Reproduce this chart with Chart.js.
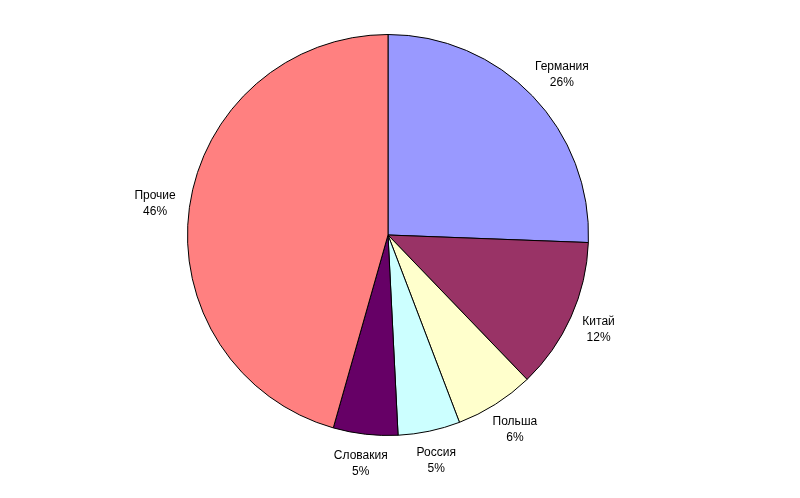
<!DOCTYPE html>
<html>
<head>
<meta charset="utf-8">
<script src="https://cdn.jsdelivr.net/npm/chart.js@4"></script>
<style>
  html, body { margin: 0; padding: 0; background: #fff; }
  #wrap { width: 800px; height: 498px; }
</style>
</head>
<body>
<div id="wrap"><canvas id="myChart" width="800" height="498"></canvas></div>
<script>
var countries = ["Германия", "Китай", "Польша", "Россия", "Словакия", "Прочие"];
var shares = [25.6, 12.2, 6.4, 5.0, 5.2, 45.6];
var colors = ["#9999FF", "#993366", "#FFFFCC", "#CCFFFF", "#660066", "#FF8080"];

// labels outside the pie, name on top, percent below
// the label box is pushed outward so its near corner sits just off the rim
const outsideLabels = {
	id: "outsideLabels",
	afterDatasetsDraw(chart) {
		const ctx = chart.ctx;
		const meta = chart.getDatasetMeta(0);
		const total = shares.reduce(function (a, b) { return a + b; }, 0);
		ctx.save();
		ctx.font = "12px 'Liberation Sans', Arial, sans-serif";
		ctx.fillStyle = "#000";
		ctx.textAlign = "center";
		ctx.textBaseline = "middle";
		meta.data.forEach(function (arc, i) {
			const p = arc.getProps(["x", "y", "startAngle", "endAngle", "outerRadius"], true);
			const mid = (p.startAngle + p.endAngle) / 2;
			const pct = Math.round(shares[i] / total * 100) + "%";
			const w = Math.max(ctx.measureText(countries[i]).width, ctx.measureText(pct).width);
			const h = 32;
			const r = p.outerRadius + 14;
			const cx = p.x + Math.cos(mid) * r + Math.cos(mid) * w / 2;
			const cy = p.y + Math.sin(mid) * r + Math.sin(mid) * h / 2;
			ctx.fillText(countries[i], cx, cy - 8);
			ctx.fillText(pct, cx, cy + 8);
		});
		ctx.restore();
	},
};

const ctx = document.getElementById("myChart").getContext("2d");
const myChart = new Chart(ctx, {
	type: "pie",
	data: {
		labels: countries,
		datasets: [
			{
				data: shares,
				backgroundColor: colors,
				borderColor: "#000",
				borderWidth: 1,
			},
		],
	},
	options: {
		responsive: false,
		animation: false,
		layout: {
			padding: { left: 187, right: 211, top: 34, bottom: 62 },
		},
		plugins: {
			legend: { display: false },
			tooltip: { enabled: false },
		},
	},
	plugins: [outsideLabels],
});
</script>
</body>
</html>
